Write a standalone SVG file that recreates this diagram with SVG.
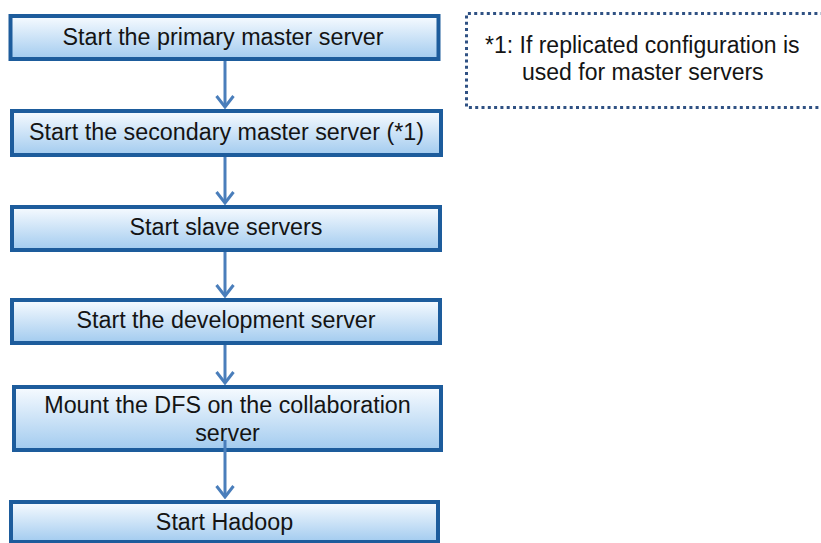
<svg xmlns="http://www.w3.org/2000/svg" width="821" height="543" viewBox="0 0 821 543">
  <defs>
    <linearGradient id="boxFill" x1="0" y1="0" x2="0" y2="1">
      <stop offset="0" stop-color="#f7fbff"/>
      <stop offset="1" stop-color="#a2cbef"/>
    </linearGradient>
    <!-- open chevron head, drawn pointing along +x so orient="auto" turns it with the line -->
    <marker id="chevron" viewBox="0 0 14 20" refX="12.5" refY="10" markerWidth="14" markerHeight="20" markerUnits="userSpaceOnUse" orient="auto">
      <path d="M1.5 1.5 L12.5 10 L1.5 18.5" fill="none" stroke="#4a7ebb" stroke-width="3"/>
    </marker>
  </defs>
  <style>
    .step rect { fill: url(#boxFill); stroke: #1d5c9c; stroke-width: 4; }
    .label { font-family: "Liberation Sans", Arial, sans-serif; font-size: 23.3px; fill: #141414; text-anchor: middle; }
    .note { font-family: "Liberation Sans", Arial, sans-serif; font-size: 23px; fill: #141414; }
    .flow { stroke: #4a7ebb; stroke-width: 3; fill: none; }
  </style>
  <rect width="821" height="543" fill="#ffffff"/>

  <g id="step1" class="step">
    <rect x="10.5" y="16" width="428" height="43"/>
    <text class="label" x="223" y="45">Start the primary master server</text>
  </g>
  <g id="step2" class="step">
    <rect x="12" y="111" width="429" height="44"/>
    <text class="label" x="226.5" y="140">Start the secondary master server (*1)</text>
  </g>
  <g id="step3" class="step">
    <rect x="12" y="207" width="428" height="43"/>
    <text class="label" x="226" y="235">Start slave servers</text>
  </g>
  <g id="step4" class="step">
    <rect x="12" y="300" width="428" height="43"/>
    <text class="label" x="226" y="328">Start the development server</text>
  </g>
  <g id="step5" class="step">
    <rect x="14" y="387" width="427" height="63"/>
    <text class="label" x="227.5" y="413">Mount the DFS on the collaboration</text>
    <text class="label" x="227.5" y="441">server</text>
  </g>
  <g id="step6" class="step">
    <rect x="11" y="502" width="427" height="40"/>
    <text class="label" x="224.5" y="530">Start Hadoop</text>
  </g>

  <!-- connectors sit above the steps; the last one starts inside the two-line step -->
  <g id="connectors">
    <line class="flow" x1="225" y1="61" x2="225" y2="107" marker-end="url(#chevron)"/>
    <line class="flow" x1="225" y1="157" x2="225" y2="203" marker-end="url(#chevron)"/>
    <line class="flow" x1="225" y1="252" x2="225" y2="296" marker-end="url(#chevron)"/>
    <line class="flow" x1="225" y1="345" x2="225" y2="383" marker-end="url(#chevron)"/>
    <line class="flow" x1="225" y1="440" x2="225" y2="497" marker-end="url(#chevron)"/>
  </g>

  <g id="footnote">
    <path d="M830 13.5 H466.5 V107.5 H830" fill="none" stroke="#2f5183" stroke-width="3" stroke-dasharray="3 3.3"/>
    <text class="note" x="485" y="53">*1: If replicated configuration is</text>
    <text class="note" x="522" y="80">used for master servers</text>
  </g>
</svg>
